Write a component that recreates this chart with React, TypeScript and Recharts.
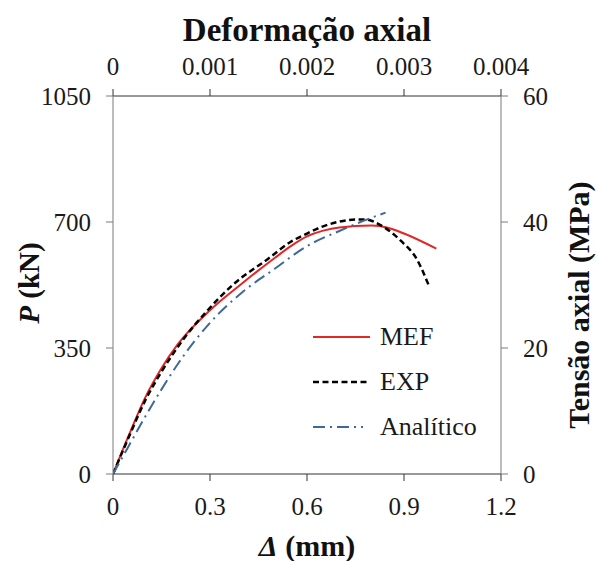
import { ComposedChart, Line, XAxis, YAxis, Legend } from 'recharts';

// Δ (mm) vs P (kN)
const mefDelta = [0, 0.05, 0.1, 0.15, 0.2, 0.3, 0.4, 0.5, 0.55, 0.6, 0.65, 0.7, 0.8, 0.85, 0.9, 1.0];
const mefLoad = [0, 110, 213, 294, 360, 455, 530, 600, 633, 660, 676, 685, 690, 684, 668, 626];

const expDelta = [0, 0.05, 0.1, 0.15, 0.22, 0.29, 0.37, 0.48, 0.55, 0.6, 0.65, 0.7, 0.75, 0.78, 0.83, 0.89, 0.94, 0.976];
const expLoad = [0, 105, 205, 284, 377, 452, 525, 598, 645, 668, 688, 701, 707, 707, 690, 648, 596, 525];

const anaDelta = [0, 0.05, 0.1, 0.15, 0.2, 0.3, 0.4, 0.5, 0.6, 0.7, 0.8, 0.843];
const anaLoad = [0, 80, 160, 235, 305, 420, 505, 570, 633, 675, 712, 726];

const seriesNames = ['MEF', 'EXP', 'Analítico'];

const deltaTicks = [0, 0.3, 0.6, 0.9, 1.2];
const loadTicks = [0, 350, 700, 1050];
const strainTicks = [0, 0.001, 0.002, 0.003, 0.004];
const stressTicks = [0, 20, 40, 60];

const toRows = (xs: number[], ys: number[]) => xs.map((d, i) => ({ d, p: ys[i] }));
const mefData = toRows(mefDelta, mefLoad);
const expData = toRows(expDelta, expLoad);
const anaData = toRows(anaDelta, anaLoad);
// invisible series so the secondary (top / right) axes get drawn
const secondaryData = [
  { e: strainTicks[0], s: stressTicks[0] },
  { e: strainTicks[strainTicks.length - 1], s: stressTicks[stressTicks.length - 1] },
];

const FONT = '"Liberation Serif", "Times New Roman", serif';
const tickStyle = { fontFamily: FONT, fontSize: 25, fill: '#1a1a1a' };

const LegendBox = ({ payload }: any) => {
  const items = (payload || [])
    .filter((e: any) => seriesNames.includes(e.value))
    .sort((a: any, b: any) => seriesNames.indexOf(a.value) - seriesNames.indexOf(b.value));
  return (
    <div style={{ fontFamily: FONT, fontSize: 26, color: '#1a1a1a' }}>
      {items.map((e: any) => (
        <div key={e.value} style={{ display: 'flex', alignItems: 'center', height: 45 }}>
          <svg width={67} height={10} style={{ display: 'block' }}>
            <line
              x1={0}
              y1={5}
              x2={e.value === 'Analítico' ? 50 : 57}
              y2={5}
              stroke={e.color}
              strokeWidth={e.payload?.strokeWidth ?? 2}
              strokeDasharray={e.payload?.strokeDasharray}
            />
          </svg>
          <span>{e.value}</span>
        </div>
      ))}
    </div>
  );
};

export default function App() {
  return (
    <div style={{ position: 'absolute', left: 0, top: 0, width: 596, height: 561, background: '#fff' }}>
      <ComposedChart width={596} height={561} margin={{ top: 56, right: 35, bottom: 47, left: 53 }}>
        <XAxis
          xAxisId="bottom"
          dataKey="d"
          type="number"
          domain={[0, 1.2]}
          ticks={deltaTicks}
          height={40}
          tickSize={7}
          tickMargin={16}
          stroke="#333"
          tick={tickStyle}
          allowDataOverflow
          label={{
            content: ({ viewBox }: any) => (
              <text
                x={viewBox.x + viewBox.width / 2}
                y={556}
                textAnchor="middle"
                fontFamily={FONT}
                fontSize={30}
                fontWeight="bold"
                fill="#111"
              >
                <tspan fontStyle="italic">Δ</tspan> (mm)
              </text>
            ),
          }}
        />
        <XAxis
          xAxisId="top"
          dataKey="e"
          orientation="top"
          type="number"
          domain={[0, 0.004]}
          ticks={strainTicks}
          height={40}
          tickSize={7}
          tickMargin={14}
          stroke="#333"
          tick={tickStyle}
          allowDataOverflow
          label={{
            content: ({ viewBox }: any) => (
              <text
                x={viewBox.x + viewBox.width / 2}
                y={41}
                textAnchor="middle"
                fontFamily={FONT}
                fontSize={33}
                fontWeight="bold"
                fill="#111"
              >
                Deformação axial
              </text>
            ),
          }}
        />
        <YAxis
          yAxisId="left"
          type="number"
          domain={[0, 1050]}
          ticks={loadTicks}
          width={60}
          tickSize={7}
          tickMargin={15}
          stroke="#7a7a7a"
          tick={tickStyle}
          allowDataOverflow
          label={{
            content: () => (
              <text
                x={29}
                y={283}
                transform="rotate(-90 29 283)"
                textAnchor="middle"
                dominantBaseline="central"
                fontFamily={FONT}
                fontSize={29}
                fontWeight="bold"
                fill="#111"
              >
                <tspan fontStyle="italic">P</tspan> (kN)
              </text>
            ),
          }}
        />
        <YAxis
          yAxisId="right"
          orientation="right"
          type="number"
          domain={[0, 60]}
          ticks={stressTicks}
          width={60}
          tickSize={7}
          tickMargin={15}
          stroke="#7a7a7a"
          tick={tickStyle}
          allowDataOverflow
          label={{
            content: () => (
              <text
                x={578}
                y={305}
                transform="rotate(-90 578 305)"
                textAnchor="middle"
                dominantBaseline="central"
                fontFamily={FONT}
                fontSize={30}
                fontWeight="bold"
                fill="#111"
              >
                Tensão axial (MPa)
              </text>
            ),
          }}
        />
        <Line
          data={secondaryData}
          dataKey="s"
          name="secondary"
          xAxisId="top"
          yAxisId="right"
          stroke="none"
          dot={false}
          activeDot={false}
          legendType="none"
          isAnimationActive={false}
        />
        <Line
          data={mefData}
          dataKey="p"
          name="MEF"
          xAxisId="bottom"
          yAxisId="left"
          type="monotone"
          stroke="#e32626"
          strokeWidth={2}
          dot={false}
          isAnimationActive={false}
        />
        <Line
          data={expData}
          dataKey="p"
          name="EXP"
          xAxisId="bottom"
          yAxisId="left"
          type="monotone"
          stroke="#000"
          strokeWidth={2.5}
          strokeDasharray="6 3.5"
          dot={false}
          isAnimationActive={false}
        />
        <Line
          data={anaData}
          dataKey="p"
          name="Analítico"
          xAxisId="bottom"
          yAxisId="left"
          type="monotone"
          stroke="#3d6a96"
          strokeWidth={2}
          strokeDasharray="12 5 2 5"
          dot={false}
          isAnimationActive={false}
        />
        <Legend
          layout="vertical"
          align="center"
          verticalAlign="middle"
          content={<LegendBox />}
          wrapperStyle={{ position: 'absolute', left: 313, top: 314, width: 'auto', height: 'auto' }}
        />
      </ComposedChart>
    </div>
  );
}
